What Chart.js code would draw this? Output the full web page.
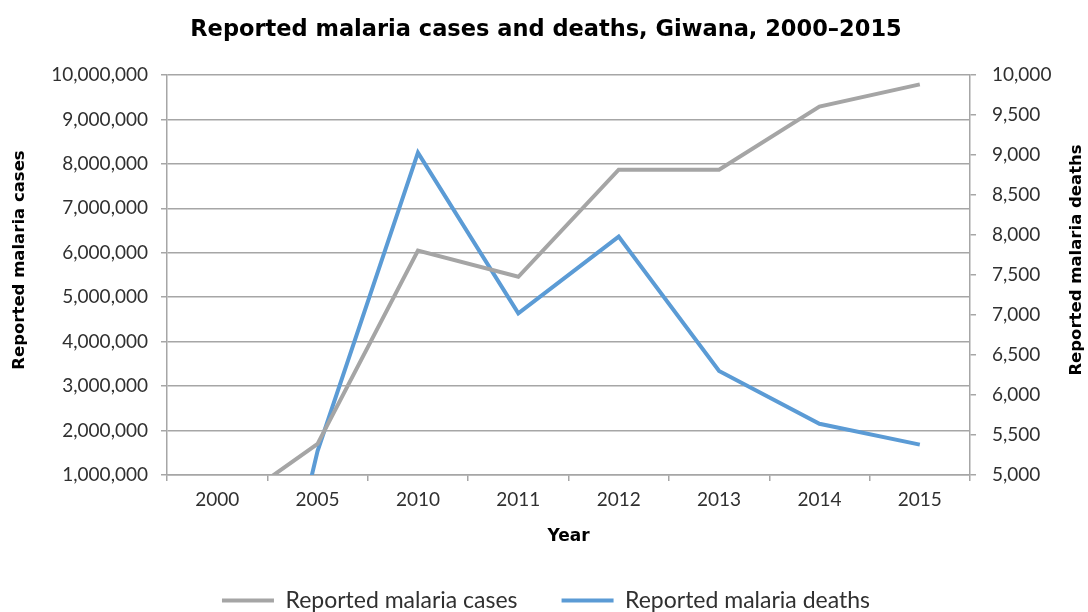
<!DOCTYPE html>
<html>
<head>
<meta charset="utf-8">
<script src="https://cdn.jsdelivr.net/npm/chart.js@4.4.1/dist/chart.umd.min.js"></script>
<style>
	html, body { margin: 0; padding: 0; background: #ffffff; }
	#wrap { width: 1088px; height: 612px; position: relative; }
</style>
</head>
<body>
<div id="wrap"><canvas id="chart-malaria"></canvas></div>
<script>
// ----------------------------------------------
// Data
// ----------------------------------------------
const YEARS = ["2000", "2005", "2010", "2011", "2012", "2013", "2014", "2015"];
const CASES = [100000, 1700000, 6050000, 5460000, 7870000, 7870000, 9290000, 9790000];
const DEATHS = [0, 5300, 9030, 7020, 7980, 6300, 5640, 5380];

const FONT = "Lato, 'Open Sans', sans-serif";
const BOLD_FONT = "'DejaVu Sans', sans-serif";
const GRID_COLOR = "#a6a6a6";
const TEXT_COLOR = "#303030";

const fmt = (v) => Number(v).toLocaleString("en-US");

// Both value-axis titles read bottom-to-top, so draw them here
// (Chart.js turns the right one the other way)
const yAxisTitles = {
	id: "yAxisTitles",
	afterDraw(chart) {
		const { ctx, chartArea, scales } = chart;
		const midY = (chartArea.top + chartArea.bottom) / 2 - 15;
		const items = [
			[scales.y.left + 16, "Reported malaria cases"],
			[scales.y1.right - 11, "Reported malaria deaths"],
		];
		ctx.save();
		ctx.font = "bold 16.5px " + BOLD_FONT;
		ctx.fillStyle = "#000000";
		ctx.textAlign = "center";
		ctx.textBaseline = "middle";
		items.forEach(([x, text]) => {
			ctx.save();
			ctx.translate(x, midY);
			ctx.rotate(-Math.PI / 2);
			ctx.fillText(text, 0, 0);
			ctx.restore();
		});
		ctx.restore();
	},
};

const CHART_CONFIG = {
	type: "line",
	data: {
		labels: YEARS,
		datasets: [
			{
				label: "Reported malaria cases",
				data: CASES,
				yAxisID: "y",
				borderColor: "#a5a5a5",
				backgroundColor: "#a5a5a5",
				borderWidth: 4,
				pointRadius: 0,
				tension: 0,
			},
			{
				label: "Reported malaria deaths",
				data: DEATHS,
				yAxisID: "y1",
				borderColor: "#5b9bd5",
				backgroundColor: "#5b9bd5",
				borderWidth: 4,
				pointRadius: 0,
				tension: 0,
			},
		],
	},
	options: {
		responsive: false,
		animation: false,
		layout: {
			padding: { left: 4, right: 0, top: 0, bottom: -10 },
		},
		plugins: {
			title: {
				display: true,
				text: "Reported malaria cases and deaths, Giwana, 2000\u20132015",
				color: "#000000",
				font: { family: BOLD_FONT, size: 22.5, weight: "bold" },
				padding: { top: 17, bottom: 31 },
			},
			legend: {
				position: "bottom",
				labels: {
					color: TEXT_COLOR,
					font: { family: FONT, size: 23 },
					boxWidth: 52,
					boxHeight: 4,
					padding: 44,
					// plain line swatch, no outline
					generateLabels: (chart) =>
						Chart.defaults.plugins.legend.labels
							.generateLabels(chart)
							.map((item) => ({ ...item, lineWidth: 0 })),
				},
			},
			tooltip: { enabled: false },
		},
		scales: {
			x: {
				offset: true,
				afterFit: (scale) => {
					scale.height = 70;
				},
				border: { display: true, color: GRID_COLOR, width: 1.5 },
				grid: {
					offset: true,
					drawOnChartArea: false,
					drawTicks: true,
					tickLength: 6,
					color: GRID_COLOR,
					lineWidth: 1.5,
				},
				ticks: {
					color: TEXT_COLOR,
					font: { family: FONT, size: 19 },
					padding: 7,
				},
				title: {
					display: true,
					text: "Year",
					color: "#000000",
					font: { family: BOLD_FONT, size: 17, weight: "bold" },
					padding: { top: 0, bottom: -2 },
				},
			},
			y: {
				position: "left",
				min: 1000000,
				max: 10000000,
				afterFit: (scale) => {
					scale.width = 163;
				},
				border: { display: true, color: GRID_COLOR, width: 1.5 },
				grid: {
					color: GRID_COLOR,
					lineWidth: 1.5,
					tickLength: 6,
				},
				ticks: {
					stepSize: 1000000,
					color: TEXT_COLOR,
					font: { family: FONT, size: 19 },
					padding: 13,
					callback: (v) => fmt(v),
				},
			},
			y1: {
				position: "right",
				min: 5000,
				max: 10000,
				afterFit: (scale) => {
					scale.width = 118;
				},
				border: { display: true, color: GRID_COLOR, width: 1.5 },
				grid: {
					drawOnChartArea: false,
					color: GRID_COLOR,
					lineWidth: 1.5,
					tickLength: 6,
				},
				ticks: {
					stepSize: 500,
					color: TEXT_COLOR,
					font: { family: FONT, size: 19 },
					padding: 16,
					callback: (v) => fmt(v),
				},
			},
		},
	},
	plugins: [yAxisTitles],
};

const CHART_WRAPPER = document.getElementById("chart-malaria");
CHART_WRAPPER.width = 1088;
CHART_WRAPPER.height = 612;
new Chart(CHART_WRAPPER, CHART_CONFIG);
</script>
</body>
</html>
